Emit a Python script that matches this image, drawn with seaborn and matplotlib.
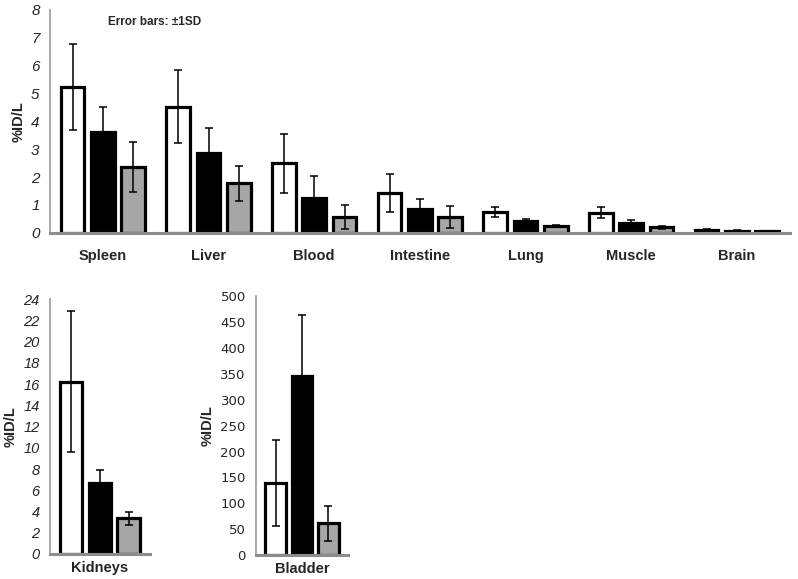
import pandas as pd
import matplotlib
matplotlib.use("Agg")
import matplotlib.pyplot as plt
import seaborn as sns

sns.set_style("white")
plt.rcParams['font.family'] = ['Liberation Sans', 'DejaVu Sans']

# --- data ---
groups = ["Group 1", "Group 2", "Group 3"]
colors = ["#ffffff", "#000000", "#a6a6a6"]

organs = ["Spleen", "Liver", "Blood", "Intestine", "Lung", "Muscle", "Brain"]
g1_mean = [5.23, 4.52, 2.50, 1.43, 0.76, 0.72, 0.11]
g1_sd = [1.54, 1.31, 1.06, 0.68, 0.18, 0.19, 0.02]
g2_mean = [3.62, 2.86, 1.25, 0.86, 0.43, 0.36, 0.08]
g2_sd = [0.91, 0.89, 0.77, 0.36, 0.07, 0.10, 0.02]
g3_mean = [2.36, 1.77, 0.57, 0.56, 0.25, 0.19, 0.05]
g3_sd = [0.89, 0.64, 0.43, 0.39, 0.04, 0.07, 0.01]

kidney_mean = [16.24, 6.72, 3.36]
kidney_sd = [6.66, 1.16, 0.63]
bladder_mean = [138.8, 345.8, 61.7]
bladder_sd = [83.0, 118.0, 34.0]


def make_df(names, means, sds):
    rows = []
    for g, m_list, s_list in zip(groups, means, sds):
        for n, m, s in zip(names, m_list, s_list):
            rows.append({"organ": n, "group": g, "value": m, "sd": s})
    return pd.DataFrame(rows)


top_df = make_df(organs, [g1_mean, g2_mean, g3_mean], [g1_sd, g2_sd, g3_sd])
kid_df = make_df(["Kidneys"], [[v] for v in kidney_mean], [[v] for v in kidney_sd])
bla_df = make_df(["Bladder"], [[v] for v in bladder_mean], [[v] for v in bladder_sd])

AXIS_GRAY = "#a0a0a0"


def draw_panel(ax, df, names, ylim, yticks, italic_ticks=True, xpad=12,
               ysize=10.5):
    sns.barplot(data=df, x="organ", y="value", hue="group", order=names,
                hue_order=groups, palette=colors, edgecolor="black",
                linewidth=2.3, width=0.86, gap=0.22, legend=False,
                errorbar=None, ax=ax, zorder=2)
    # error bars (+/- 1 SD) on each bar
    for g, cont in zip(groups, ax.containers):
        sub = df[df["group"] == g].set_index("organ").loc[names]
        xs = [p.get_x() + p.get_width() / 2 for p in cont]
        ax.errorbar(xs, sub["value"], yerr=sub["sd"], fmt="none",
                    ecolor="black", elinewidth=1.1, capsize=3,
                    capthick=1.1, zorder=3)
    ax.set_ylim(*ylim)
    ax.set_yticks(yticks)
    ax.set_xlim(-0.5, len(names) - 0.5)
    ax.set_xlabel("")
    ax.set_ylabel("%ID/L", fontsize=10.5, fontweight="bold")
    sns.despine(ax=ax)
    ax.spines["left"].set_color(AXIS_GRAY)
    ax.spines["left"].set_linewidth(1.3)
    ax.spines["bottom"].set_color("#8c8c8c")
    ax.spines["bottom"].set_linewidth(2.2)
    ax.spines["bottom"].set_zorder(4)
    ax.tick_params(axis="y", direction="out", length=4, width=1,
                   color=AXIS_GRAY, labelsize=ysize)
    ax.tick_params(axis="x", length=0, pad=xpad, labelsize=10.5)
    for lab in ax.get_xticklabels():
        lab.set_fontweight("bold")
    for lab in ax.get_yticklabels():
        if italic_ticks:
            lab.set_fontstyle("italic")
        else:
            lab.set_family("DejaVu Sans")


fig = plt.figure(figsize=(7.98, 5.79), dpi=100)

ax_top = fig.add_axes([0.0627, 0.598, 0.927, 0.385])
draw_panel(ax_top, top_df, organs, (0, 8), range(0, 9), xpad=12, ysize=11)
ax_top.text(0.05, 7.58, "Error bars: \u00b11SD", fontsize=8.5,
            fontweight="bold", ha="left", va="center")

ax_kid = fig.add_axes([0.0627, 0.0432, 0.125, 0.440])
draw_panel(ax_kid, kid_df, ["Kidneys"], (0, 24), range(0, 25, 2), xpad=5,
           ysize=10.5)

ax_bla = fig.add_axes([0.321, 0.041, 0.115, 0.448])
draw_panel(ax_bla, bla_df, ["Bladder"], (0, 500), range(0, 501, 50),
           italic_ticks=False, xpad=5, ysize=9.5)

fig.savefig("out.png", dpi=100)
